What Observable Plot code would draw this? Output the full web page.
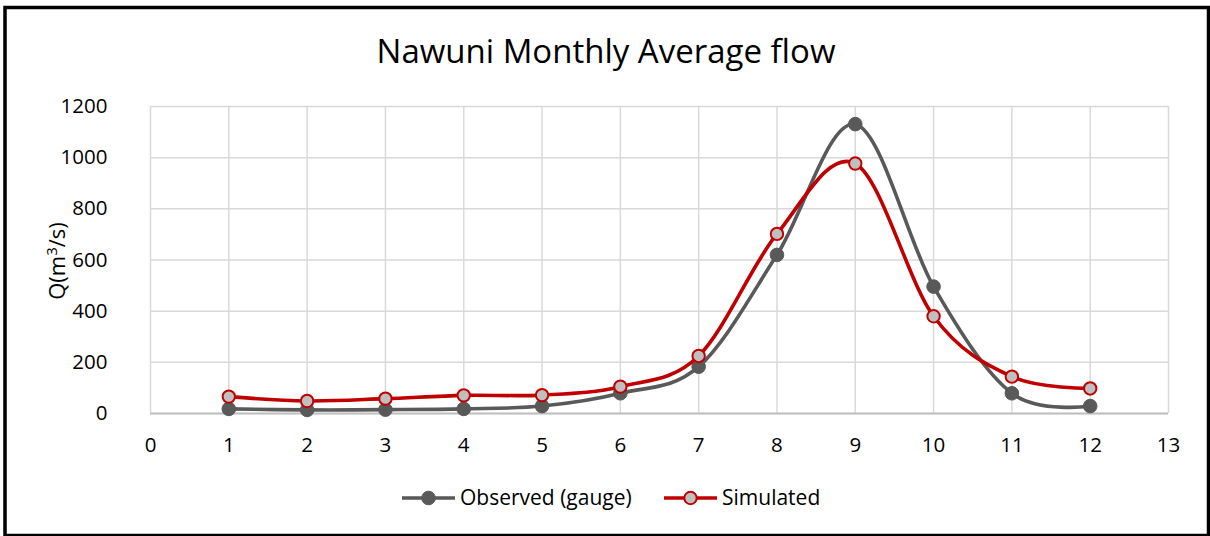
<!DOCTYPE html>
<html><head><meta charset="utf-8">
<script src="https://cdn.jsdelivr.net/npm/d3@7"></script>
<script src="https://cdn.jsdelivr.net/npm/@observablehq/plot@0.6"></script>
<style>
body{margin:0;background:#fff;}
#wrap{position:relative;width:1210px;height:536px;overflow:hidden;}
</style>
</head><body><div id="wrap"></div>
<script>
const title = "Nawuni Monthly Average flow";
const yLabelParts = ["Q(m", "3", "/s)"];
const months = [1,2,3,4,5,6,7,8,9,10,11,12];
const observed = [18,14,15,18,29,79,183,620,1131,496,79,29];
const simulated = [66,49,58,71,72,105,225,702,977,380,144,98];
const seriesNames = ["Observed (gauge)", "Simulated"];
const xTicks = [0,1,2,3,4,5,6,7,8,9,10,11,12,13];
const yTicks = [0,200,400,600,800,1000,1200];

const obsData = months.map((m,i)=>({month:m, q:observed[i]}));
const simData = months.map((m,i)=>({month:m, q:simulated[i]}));

const obsColor = "#595959", simColor = "#c00000", simFill = "#bfbfbf";
const font = "'Open Sans', Lato, sans-serif";

const chart = Plot.plot({
  width:1210, height:536,
  marginLeft:150, marginRight:42, marginTop:106, marginBottom:123,
  x:{domain:[0,13], label:null},
  y:{domain:[0,1200], label:null},
  style:{fontFamily:font, fontSize:"20px", color:"#000", background:"transparent", overflow:"visible"},
  marks:[
    Plot.gridX(xTicks,{stroke:"#d9d9d9", strokeOpacity:1, strokeWidth:1.5}),
    Plot.gridY(yTicks,{stroke:"#d9d9d9", strokeOpacity:1, strokeWidth:1.5}),
    Plot.ruleY([0],{stroke:"#bfbfbf", strokeWidth:2}),
    Plot.axisX(xTicks,{tickSize:0, tickPadding:24, label:null, fontSize:20.5, fill:"#000", tickFormat:d=>String(d)}),
    Plot.axisY(yTicks,{tickSize:0, tickPadding:43, label:null, fontSize:20.5, fill:"#000", tickFormat:d=>String(d)}),
    Plot.line(obsData,{x:"month", y:"q", stroke:obsColor, strokeWidth:3.6, curve:"cardinal", tension:0}),
    Plot.dot(obsData,{x:"month", y:"q", r:6.8, fill:obsColor, stroke:obsColor, strokeWidth:1}),
    Plot.line(simData,{x:"month", y:"q", stroke:simColor, strokeWidth:3.6, curve:"cardinal", tension:0}),
    Plot.dot(simData,{x:"month", y:"q", r:6.2, fill:simFill, stroke:simColor, strokeWidth:2})
  ]
});
document.getElementById("wrap").appendChild(chart);

const svg = d3.select(chart);
// border
svg.append("rect").attr("x",5).attr("y",7.5).attr("width",1203.5).attr("height",528)
  .attr("fill","none").attr("stroke","#000").attr("stroke-width",3.5);
// title
svg.append("text").attr("x",606).attr("y",63).attr("text-anchor","middle")
  .attr("font-family",font).attr("font-size",33).attr("fill","#000").text(title);
// y label
const yl = svg.append("text").attr("transform","translate(65,261) rotate(-90)").attr("text-anchor","middle")
  .attr("font-family",font).attr("font-size",22).attr("fill","#000");
yl.append("tspan").text(yLabelParts[0]);
yl.append("tspan").attr("font-size",15).attr("dy","-0.55em").text(yLabelParts[1]);
yl.append("tspan").attr("dy","0.39em").text(yLabelParts[2]);
// legend
const leg = [
  {name:seriesNames[0], x0:402, x1:455, stroke:obsColor, fill:obsColor, sw:1, r:6.8, tx:460},
  {name:seriesNames[1], x0:664, x1:717, stroke:simColor, fill:simFill, sw:2, r:6.2, tx:722}
];
const ly = 498;
for (const l of leg) {
  svg.append("line").attr("x1",l.x0).attr("x2",l.x1).attr("y1",ly).attr("y2",ly)
    .attr("stroke",l.stroke).attr("stroke-width",3.4);
  svg.append("circle").attr("cx",(l.x0+l.x1)/2).attr("cy",ly).attr("r",l.r)
    .attr("fill",l.fill).attr("stroke",l.stroke).attr("stroke-width",l.sw);
  svg.append("text").attr("x",l.tx).attr("y",ly).attr("dy","0.35em").attr("text-anchor","start")
    .attr("font-family",font).attr("font-size",21).attr("fill","#000").text(l.name);
}
</script>
</body></html>
